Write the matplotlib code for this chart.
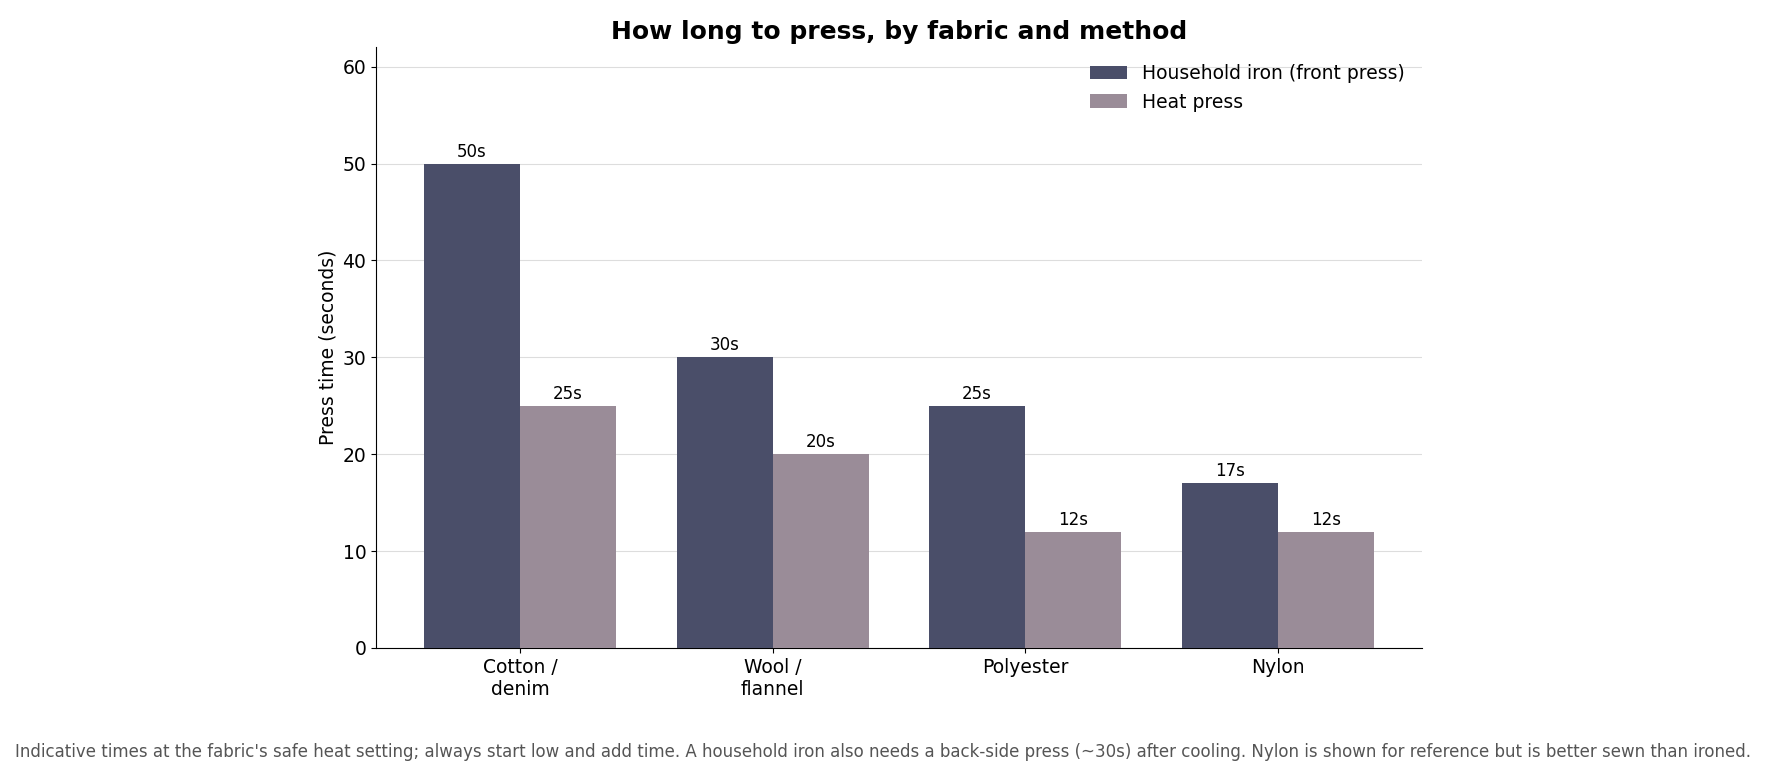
import matplotlib
matplotlib.use("Agg")
import matplotlib.pyplot as plt
import numpy as np

categories = ["Cotton /\ndenim", "Wool /\nflannel", "Polyester", "Nylon"]
iron = [50, 30, 25, 17]
press = [25, 20, 12, 12]
series_names = ["Household iron (front press)", "Heat press"]

fig = plt.figure(figsize=(17.66, 7.76), dpi=100)
ax = fig.add_axes([0.213, 0.165, 0.592, 0.774])
x = np.arange(len(categories))
w = 0.38
b1 = ax.bar(x - w/2, iron, w, color="#4a4e69", label=series_names[0], zorder=3)
b2 = ax.bar(x + w/2, press, w, color="#9a8c98", label=series_names[1], zorder=3)
for bars, vals in ((b1, iron), (b2, press)):
    for r, v in zip(bars, vals):
        ax.text(r.get_x() + r.get_width()/2, v + 0.3, f"{v}s", ha="center", va="bottom", fontsize=12)
ax.set_xticks(x)
ax.set_xticklabels(categories, fontsize=13.5)
ax.set_ylim(0, 62)
ax.set_xlim(-0.57, 3.57)
ax.set_yticks(range(0, 61, 10))
ax.tick_params(axis="y", labelsize=13.5)
ax.set_ylabel("Press time (seconds)", fontsize=13.5)
ax.grid(axis="y", color="#dddddd", zorder=0)
ax.spines["top"].set_visible(False)
ax.spines["right"].set_visible(False)
ax.set_title("How long to press, by fabric and method", fontsize=18, fontweight="bold", pad=6)
ax.legend(frameon=False, fontsize=13.5, loc="upper right")
fig.text(0.5, 0.025, "Indicative times at the fabric's safe heat setting; always start low and add time. A household iron also needs a back-side press (~30s) after cooling. Nylon is shown for reference but is better sewn than ironed.",
         ha="center", fontsize=12, color="#555555")
fig.savefig("out.png", dpi=100)
